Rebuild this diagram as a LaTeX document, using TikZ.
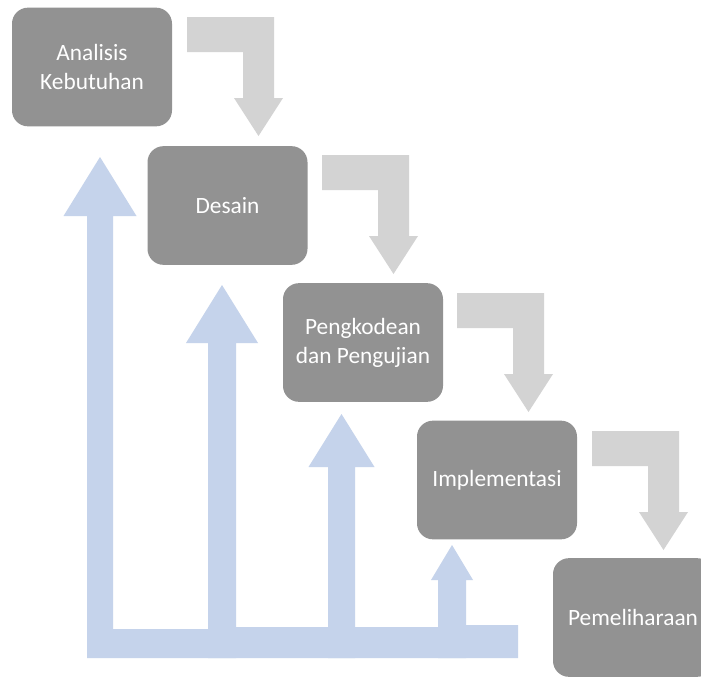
\documentclass[tikz,border=0pt]{standalone}
\usepackage{fontspec}
\setmainfont{Carlito}
\definecolor{boxgray}{RGB}{146,146,146}
\definecolor{stepgray}{RGB}{211,211,211}
\definecolor{backblue}{RGB}{197,211,235}
\tikzset{
  phase/.style={fill=boxgray, rounded corners=12pt, minimum width=120pt,
    minimum height=89pt, inner sep=0pt, align=center, text=white,
    font=\fontsize{17.5}{21.75}\selectfont},
}
\begin{document}
\begin{tikzpicture}[x=0.75pt,y=-0.75pt]
            \clip (0,0) rectangle (701,678);
            \fill[white] (0,0) rectangle (701,678);

            % arrows back up
            \foreach \l/\r/\h/\b/\t/\top/\e in {87/113/36.5/216/157/629/236,
                208/236/36/343/285/627/355, 328/355/33/467/414/627/466,
                438/466/21/580/545/625/518} {
              \pgfmathsetmacro\c{(\l+\r)/2}
              \fill[backblue] (\l,658) -- (\e,658) -- (\e,\top) -- (\r,\top)
                -- (\r,\b) -- (\c+\h,\b) -- (\c,\t) -- (\c-\h,\b) -- (\l,\b) -- cycle;
            }

            % arrows down to next phase
            \foreach \x/\y in {187/17, 322/155, 457/293, 592/431} {
              \fill[stepgray] (\x,\y) -- ++(87,0) -- ++(0,81) -- ++(9,0)
                -- (\x+71.5,\y+119) -- (\x+47,\y+81) -- (\x+56,\y+81)
                -- (\x+56,\y+35) -- (\x,\y+35) -- cycle;
            }

            \node[phase] (analisis) at (92,67) {Analisis\\Kebutuhan};
            \node[phase] (desain) at (227.5,205.5) {Desain};
            \node[phase] (kode) at (363,342.5) {Pengkodean\\dan Pengujian};
            \node[phase] (implementasi) at (497,480) {Implementasi};
            \node[phase] (pemeliharaan) at (633,617.5) {Pemeliharaan};
        \end{tikzpicture}
\end{document}
